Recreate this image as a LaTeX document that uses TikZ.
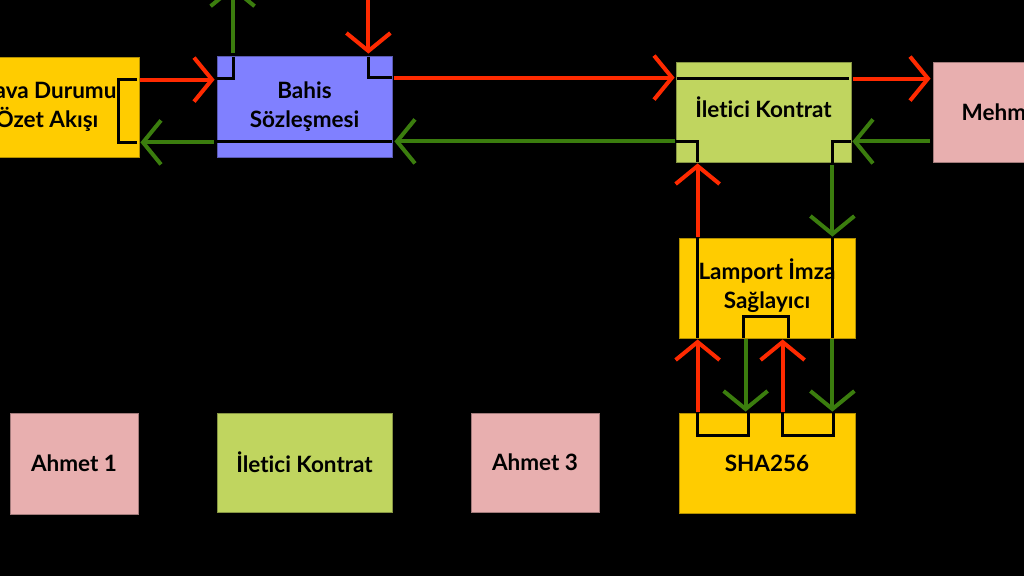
\documentclass[tikz,border=0pt]{standalone}
\usepackage{fontspec}
\setmainfont{Lato}[Ligatures={NoCommon}]
\usetikzlibrary{arrows.meta,calc}
\definecolor{cyellow}{HTML}{FFCC00}
\definecolor{cblue}{HTML}{8080FF}
\definecolor{colive}{HTML}{C0D55F}
\definecolor{cpink}{HTML}{E8AFAF}
\definecolor{cred}{HTML}{FF2A00}
\definecolor{cgreen}{HTML}{3B7D0E}
\begin{document}
\begin{tikzpicture}[x=1pt,y=-1pt,
  box/.style={line width=0.8pt, minimum height=100pt, inner sep=0pt, align=center,
    font=\fontsize{22.5}{29}\selectfont\bfseries, text=black},
  ybox/.style={box, fill=cyellow, draw=cyellow!70!black},
  bbox/.style={box, fill=cblue, draw=cblue!70!black},
  gbox/.style={box, fill=colive, draw=colive!70!black},
  pbox/.style={box, fill=cpink, draw=cpink!70!black},
  wire/.style={draw=black, line width=2.5pt},
  redarr/.style={draw=cred, line width=4pt, -{Straight Barb[length=18pt,width=44pt]}},
  grnarr/.style={draw=cgreen, line width=4pt, -{Straight Barb[length=18pt,width=44pt]}}]
\useasboundingbox (0,0) rectangle (1024,576);
\fill[black] (0,0) rectangle (1024,576);
\clip (0,0) rectangle (1024,576);

\node[ybox, minimum width=184pt] (hava) at (47,107) {Hava Durumu\\Özet Akışı};
\node[bbox, minimum width=175pt, minimum height=101pt] (bahis) at (304.5,106.5) {Bahis\\Sözleşmesi};
\node[gbox, minimum width=175pt] (ilet1) at (763.5,112) {\raisebox{9pt}{İletici Kontrat}};
\node[pbox, minimum width=128pt] (mehmet) at (997,112) {\hspace*{14pt}Mehmet};
\node[ybox, minimum width=176pt] (lamport) at (767,288) {\raisebox{7pt}{\begin{tabular}{@{}c@{}}Lamport İmza\\Sağlayıcı\end{tabular}}};
\node[ybox, minimum width=176pt] (sha) at (767,463) {SHA256};
\node[pbox, minimum width=128pt, minimum height=101pt] (ahmet1) at (74,463.5) {Ahmet 1};
\node[gbox, minimum width=175pt, minimum height=99pt] (ilet2) at (304.5,462.5) {İletici Kontrat};
\node[pbox, minimum width=128pt, minimum height=99pt] (ahmet3) at (535,462.5) {Ahmet 3};

% black internal wires
\draw[wire] ($(hava.north east)+(-2,23)$) -- ++(-19,0) -- ++(0,63) -- ++(19,0);
\draw[wire] ($(bahis.north west)+(0,23)$) -- ++(17,0) -- ($(bahis.north west)+(17,1)$);
\draw[wire] ($(bahis.north east)+(-24,1)$) -- ++(0,21) -- ($(bahis.north east)+(0,22)$);
\draw[wire] ($(bahis.south west)+(0,-16)$) -- ($(bahis.south east)+(0,-16)$);
\draw[wire] ($(ilet1.north west)+(1,17)$) -- ($(ilet1.north east)+(-2,17)$);
\draw[wire] ($(ilet1.south west)+(0,-21)$) -- ++(22,0) -- ($(ilet1.south west)+(22,0)$);
\draw[wire] ($(ilet1.south east)+(0,-21)$) -- ++(-19,0) -- ($(ilet1.south east)+(-19,3)$);
\draw[wire] ($(lamport.north west)+(19,0)$) -- ($(lamport.south west)+(19,0)$);
\draw[wire] ($(lamport.north east)+(-23,0)$) -- ($(lamport.south east)+(-23,0)$);
\draw[wire] ($(lamport.south west)+(65,0)$) -- ++(0,-22) -- ++(45,0) -- ($(lamport.south west)+(110,0)$);
\draw[wire] ($(sha.north west)+(19,0)$) -- ++(0,23) -- ++(51,0) -- ($(sha.north west)+(70,0)$);
\draw[wire] ($(sha.north west)+(104,0)$) -- ++(0,23) -- ++(51,0) -- ($(sha.north west)+(155,0)$);

% red arrows
\draw[redarr] ($(hava.north east)+(1,23)$) -- ($(bahis.north west)+(-2,24)$);
\draw[redarr] ($(bahis.north east)+(-24,-70)$) -- ($(bahis.north east)+(-24,-2)$);
\draw[redarr] ($(bahis.north east)+(2,22)$) -- ($(ilet1.north west)+(-1,16)$);
\draw[redarr] ($(ilet1.north east)+(2,17)$) -- ($(mehmet.north west)+(-2,17)$);
\draw[redarr] ($(lamport.north west)+(19,-1)$) -- ($(ilet1.south west)+(22,1)$);
\draw[redarr] ($(sha.north west)+(19,-1)$) -- ($(lamport.south west)+(19,1)$);
\draw[redarr] ($(sha.north west)+(104,-1)$) -- ($(lamport.south west)+(104,1)$);

% green arrows
\draw[grnarr] ($(bahis.north west)+(16,-3)$) -- ($(bahis.north west)+(16,-70)$);
\draw[grnarr] ($(bahis.south west)+(-3,-15)$) -- ($(hava.south east)+(1,-15)$);
\draw[grnarr] ($(ilet1.south west)+(-1,-21)$) -- ($(bahis.south east)+(2,-16)$);
\draw[grnarr] ($(mehmet.south west)+(-3,-21)$) -- ($(ilet1.south east)+(1,-21)$);
\draw[grnarr] ($(ilet1.south east)+(-19,3)$) -- ($(lamport.north east)+(-23,-1)$);
\draw[grnarr] ($(lamport.south west)+(67,1)$) -- ($(sha.north west)+(67,-1)$);
\draw[grnarr] ($(lamport.south east)+(-23,1)$) -- ($(sha.north east)+(-23,-1)$);
\end{tikzpicture}
\end{document}
